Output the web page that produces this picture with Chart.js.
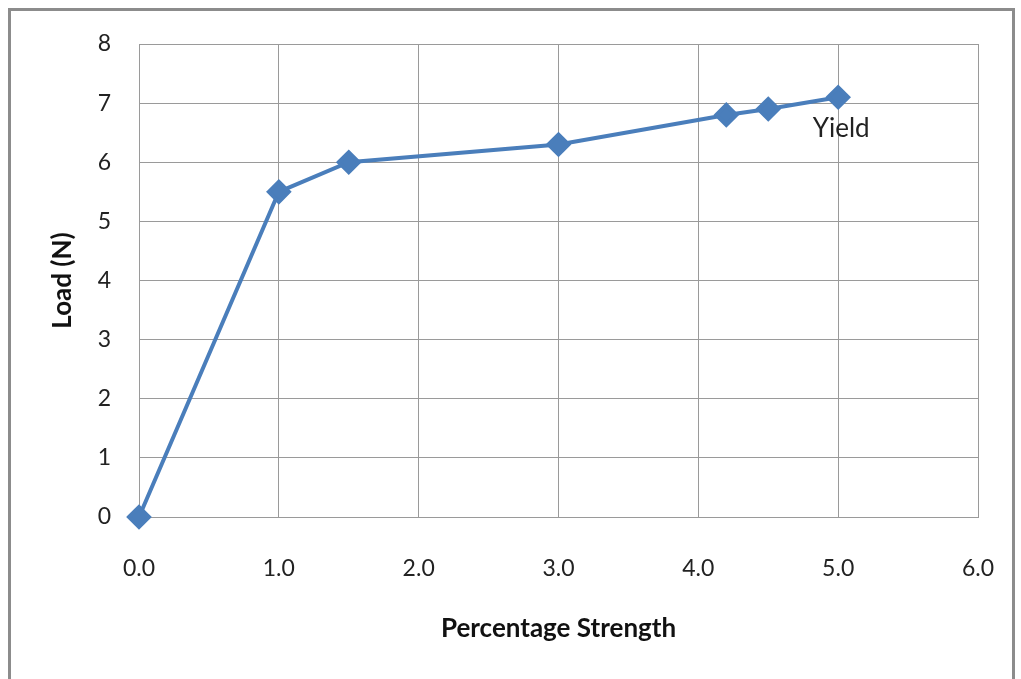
<!DOCTYPE html>
<html>
<head>
<meta charset="utf-8">
<script src="https://cdn.jsdelivr.net/npm/chart.js@4"></script>
<style>
  html, body { margin: 0; padding: 0; background: #fff; }
  #frame {
    position: absolute; left: 8px; top: 8px; width: 1007px; height: 700px;
    border: 3px solid #8c8c8c; box-sizing: border-box;
  }
  #wrap { position: absolute; left: 0; top: 0; width: 1021px; height: 679px; }
</style>
</head>
<body>
<div id="frame"></div>
<div id="wrap"><canvas id="chart"></canvas></div>
<script>
// Percentage strength vs load readings
const strength = [0, 1.0, 1.5, 3.0, 4.2, 4.5, 5.0];
const load = [0, 5.5, 6.0, 6.3, 6.8, 6.9, 7.1];
const yieldLabel = "Yield";
const yieldIndex = 6;

const FONT = "Lato, 'Open Sans', sans-serif";

// Write "Yield" just under the last point
const yieldPlugin = {
  id: "yieldLabel",
  afterDatasetsDraw(chart) {
    const ctx = chart.ctx;
    const x = chart.scales.x.getPixelForValue(strength[yieldIndex]);
    const y = chart.scales.y.getPixelForValue(load[yieldIndex]);
    ctx.save();
    ctx.font = "26px " + FONT;
    ctx.fillStyle = "#222";
    ctx.textAlign = "center";
    ctx.textBaseline = "middle";
    ctx.fillText(yieldLabel, x + 3, y + 31);
    ctx.restore();
  },
};

new Chart(document.getElementById("chart"), {
  type: "line",
  data: {
    datasets: [
      {
        data: strength.map((s, i) => ({ x: s, y: load[i] })),
        borderColor: "#4a7ebb",
        backgroundColor: "#4a7ebb",
        borderWidth: 4,
        pointStyle: "rectRot",
        pointRadius: 10,
        pointHoverRadius: 10,
        fill: false,
        tension: 0,
        clip: false,
      },
    ],
  },
  options: {
    responsive: true,
    maintainAspectRatio: false,
    animation: false,
    layout: { padding: { left: 43, top: 44, right: 43, bottom: 31 } },
    plugins: { legend: { display: false }, tooltip: { enabled: false } },
    scales: {
      x: {
        type: "linear",
        min: 0,
        max: 6,
        afterFit: (s) => { s.height = 131; s.paddingLeft = 0; s.paddingRight = 0; },
        grid: { color: "#9a9a9a", lineWidth: 1, drawTicks: false },
        border: { color: "#9a9a9a" },
        ticks: {
          stepSize: 1,
          padding: 38,
          color: "#222",
          font: { family: FONT, size: 23 },
          callback: (v) => v.toFixed(1),
        },
        title: {
          display: true,
          text: "Percentage Strength",
          color: "#111",
          font: { family: FONT, size: 26, weight: "bold" },
          padding: { top: 20 },
        },
      },
      y: {
        min: 0,
        max: 8,
        afterFit: (s) => { s.width = 96; s.paddingTop = 0; s.paddingBottom = 0; },
        grid: { color: "#9a9a9a", lineWidth: 1, drawTicks: false },
        border: { color: "#9a9a9a" },
        ticks: {
          stepSize: 1,
          padding: 28,
          color: "#222",
          font: { family: FONT, size: 23 },
        },
        title: {
          display: true,
          text: "Load (N)",
          color: "#111",
          font: { family: FONT, size: 26, weight: "bold" },
          padding: { bottom: 10 },
        },
      },
    },
  },
  plugins: [yieldPlugin],
});
</script>
</body>
</html>
